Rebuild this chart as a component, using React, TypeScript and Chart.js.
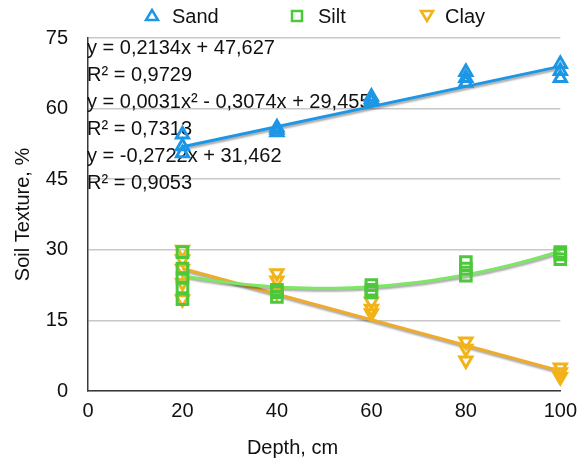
import React, { useEffect, useRef } from 'react';
import { Chart, registerables } from 'chart.js';

Chart.register(...registerables);

// ---- data ----
const depths = [20, 40, 60, 80, 100];
const sandByDepth = [
  [50.5, 52, 54.5],
  [55, 55.5, 56],
  [61.5, 62, 62.5],
  [65.5, 66.5, 67.8],
  [66.5, 68, 69.5],
];
const siltByDepth = [
  [19.5, 22, 24, 26, 29.5],
  [20, 21, 21.5],
  [21, 21.5, 22.5],
  [24.5, 26, 27.4],
  [28, 29, 29.5],
];
const clayByDepth = [
  [19.5, 23, 26, 28, 30],
  [21, 23.5, 25],
  [16.5, 17.5, 19],
  [6.5, 9, 10.5],
  [3, 4, 5],
];
// trend-line coefficients as printed on the chart (c0 + c1 x + c2 x^2)
const sandFit = [47.627, 0.2134];
const siltFit = [29.455, -0.3074, 0.0031];
const clayFit = [31.462, -0.2722];
const fitRange = [20, 100];
const equationLines = [
  'y = 0,2134x + 47,627',
  'R² = 0,9729',
  'y = 0,0031x² - 0,3074x + 29,455',
  'R² = 0,7313',
  'y = -0,2722x + 31,462',
  'R² = 0,9053',
];
const seriesNames = ['Sand', 'Silt', 'Clay'];
const xTitle = 'Depth, cm';
const yTitle = 'Soil Texture, %';

const FONT = '"Liberation Sans", Arial, Helvetica, sans-serif';
const sandColor = '#1e96e6';
const siltColor = '#4dc83a';
const siltLineColor = '#7ee567';
const clayColor = '#f2b318';
const clayLineColor = '#efab2c';

function toPoints(byDepth: number[][]) {
  const pts: { x: number; y: number }[] = [];
  byDepth.forEach((vals, i) => vals.forEach((v) => pts.push({ x: depths[i], y: v })));
  return pts;
}

function fitPoints(coeffs: number[], steps: number) {
  const pts: { x: number; y: number }[] = [];
  for (let i = 0; i <= steps; i++) {
    const x = fitRange[0] + ((fitRange[1] - fitRange[0]) * i) / steps;
    let y = 0;
    coeffs.forEach((c, k) => (y += c * Math.pow(x, k)));
    pts.push({ x, y });
  }
  return pts;
}

const shadowPlugin = {
  id: 'trendShadow',
  beforeDatasetDraw(chart: any, args: any) {
    const ds = chart.data.datasets[args.index];
    if (ds.isTrend) {
      const ctx = chart.ctx;
      ctx.save();
      ctx.shadowColor = 'rgba(0,0,0,0.35)';
      ctx.shadowOffsetY = 2;
      ctx.shadowOffsetX = 1;
      ctx.shadowBlur = 2;
    }
  },
  afterDatasetDraw(chart: any, args: any) {
    const ds = chart.data.datasets[args.index];
    if (ds.isTrend) chart.ctx.restore();
  },
};

const textPlugin = {
  id: 'equations',
  beforeDatasetsDraw(chart: any) {
    const ctx = chart.ctx;
    const left = chart.chartArea.left;
    const top = chart.chartArea.top;
    ctx.save();
    ctx.font = `20px ${FONT}`;
    ctx.fillStyle = '#111';
    ctx.textAlign = 'left';
    ctx.textBaseline = 'middle';
    equationLines.forEach((t, i) => ctx.fillText(t, left - 1, top + 10 + i * 27));
    ctx.restore();
  },
  afterDraw(chart: any) {
    const ctx = chart.ctx;
    const ca = chart.chartArea;
    ctx.save();
    // x-axis title, centred on the canvas
    ctx.font = `20px ${FONT}`;
    ctx.fillStyle = '#111';
    ctx.textAlign = 'center';
    ctx.textBaseline = 'middle';
    ctx.fillText(xTitle, chart.width / 2, ca.bottom + 57);

    // legend
    const items = [
      { name: seriesNames[0], color: sandColor, shape: 'up', mx: 152, tx: 172 },
      { name: seriesNames[1], color: siltColor, shape: 'sq', mx: 297, tx: 318 },
      { name: seriesNames[2], color: clayColor, shape: 'down', mx: 427, tx: 445 },
    ];
    const ly = 16;
    items.forEach((it) => {
      ctx.strokeStyle = it.color;
      ctx.lineWidth = 2.5;
      ctx.beginPath();
      if (it.shape === 'up') {
        ctx.moveTo(it.mx, ly - 6);
        ctx.lineTo(it.mx + 6, ly + 4);
        ctx.lineTo(it.mx - 6, ly + 4);
        ctx.closePath();
      } else if (it.shape === 'down') {
        ctx.moveTo(it.mx, ly + 5);
        ctx.lineTo(it.mx + 6, ly - 5);
        ctx.lineTo(it.mx - 6, ly - 5);
        ctx.closePath();
      } else {
        ctx.rect(it.mx - 5, ly - 5, 10, 10);
      }
      ctx.stroke();
      ctx.fillStyle = '#111';
      ctx.textAlign = 'left';
      ctx.textBaseline = 'middle';
      ctx.fillText(it.name, it.tx, ly + 1);
    });
    ctx.restore();
  },
};

export default function App() {
  const canvasRef = useRef<HTMLCanvasElement | null>(null);

  useEffect(() => {
    if (!canvasRef.current) return;
    const markerCommon = {
      showLine: false,
      pointBackgroundColor: 'rgba(255,255,255,0)',
      pointBorderWidth: 3,
      clip: false as any,
    };
    const trendCommon = {
      showLine: true,
      pointRadius: 0,
      borderWidth: 3,
      fill: false,
      tension: 0,
      clip: false as any,
      isTrend: true,
    };
    const chart = new Chart(canvasRef.current, {
      type: 'scatter',
      data: {
        datasets: [
          {
            ...markerCommon,
            label: seriesNames[0],
            data: toPoints(sandByDepth),
            pointStyle: 'triangle',
            pointRadius: 7,
            borderColor: sandColor,
            pointBorderColor: sandColor,
          },
          {
            ...markerCommon,
            label: seriesNames[1],
            data: toPoints(siltByDepth),
            pointStyle: 'rect',
            pointRadius: 7.5,
            borderColor: siltColor,
            pointBorderColor: siltColor,
          },
          {
            ...markerCommon,
            label: seriesNames[2],
            data: toPoints(clayByDepth),
            pointStyle: 'triangle',
            pointRotation: 180,
            pointRadius: 7,
            borderColor: clayColor,
            pointBorderColor: clayColor,
          },
          { ...trendCommon, label: 'sandFit', data: fitPoints(sandFit, 1), borderColor: sandColor },
          { ...trendCommon, label: 'siltFit', data: fitPoints(siltFit, 40), borderColor: siltLineColor },
          { ...trendCommon, label: 'clayFit', data: fitPoints(clayFit, 1), borderColor: clayLineColor },
        ] as any,
      },
      options: {
        animation: false,
        responsive: true,
        maintainAspectRatio: false,
        layout: { padding: { top: 38, right: 22, left: 0, bottom: 0 } },
        plugins: {
          legend: { display: false },
          tooltip: { enabled: false },
        },
        scales: {
          x: {
            type: 'linear',
            min: 0,
            max: 100,
            ticks: { stepSize: 20, padding: 8, color: '#111', font: { family: FONT, size: 20 } },
            grid: { display: false, drawTicks: false },
            border: { display: true, color: '#3a3a3a', width: 1.5 },
            title: { display: false },
            afterFit: (s: any) => {
              s.height = 72;
            },
          },
          y: {
            type: 'linear',
            min: 0,
            max: 75,
            ticks: { stepSize: 15, padding: 20, color: '#111', font: { family: FONT, size: 20 } },
            grid: { color: '#c8c8c8', lineWidth: 1.5, drawTicks: false },
            border: { display: true, color: '#3a3a3a', width: 1.5 },
            title: {
              display: true,
              text: yTitle,
              color: '#111',
              font: { family: FONT, size: 20 },
              padding: { top: 11, bottom: 0 },
            },
            afterFit: (s: any) => {
              s.width = 88;
            },
          },
        },
      } as any,
      plugins: [shadowPlugin, textPlugin],
    });
    return () => chart.destroy();
  }, []);

  return (
    <div style={{ position: 'fixed', left: 0, top: 0, width: 585, height: 463, background: '#fff' }}>
      <canvas ref={canvasRef} />
    </div>
  );
}
